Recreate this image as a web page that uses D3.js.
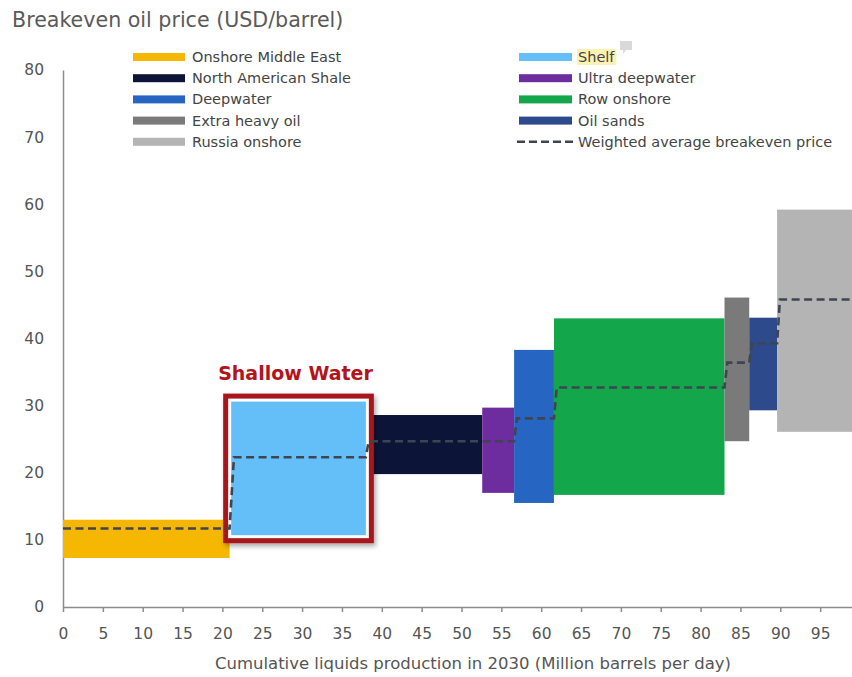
<!DOCTYPE html>
<html>
<head>
<meta charset="utf-8">
<script src="https://cdn.jsdelivr.net/npm/d3@7"></script>
<style>
  body { margin: 0; background: #fff; }
  svg { display: block; font-family: 'DejaVu Sans', sans-serif; }
</style>
</head>
<body>
<div id="chart"></div>
<script>
// supply segments, in order along the x axis
const categories = ['Onshore Middle East', 'Shelf', 'North American Shale', 'Ultra deepwater', 'Deepwater', 'Row onshore', 'Extra heavy oil', 'Oil sands', 'Russia onshore'];
const startProd = [0, 21.1, 38.0, 52.6, 56.6, 61.6, 83.0, 86.1, 89.6];
const endProd = [20.9, 38.0, 52.6, 56.6, 61.6, 83.0, 86.1, 89.6, 100];
const lowPrice = [7.3, 10.7, 19.8, 17.0, 15.5, 16.7, 24.7, 29.3, 26.1];
const highPrice = [13.0, 30.6, 28.6, 29.7, 38.3, 43.0, 46.1, 43.1, 59.2];
const avgPrice = [11.7, 22.3, 24.7, 24.7, 28.1, 32.7, 36.4, 39.3, 45.8];
const colors = ['#f6b702', '#64bff9', '#0c1437', '#6e2d9f', '#2765c2', '#14a64a', '#7a7a7a', '#2d4a8c', '#b4b4b4'];

const legendLeft = ['Onshore Middle East', 'North American Shale', 'Deepwater', 'Extra heavy oil', 'Russia onshore'];
const legendRight = ['Shelf', 'Ultra deepwater', 'Row onshore', 'Oil sands'];
const avgLabel = 'Weighted average breakeven price';

const xTicks = d3.range(0, 100, 5);
const yTicks = [0, 10, 20, 30, 40, 50, 60, 70, 80];

var width = 852, height = 677;
var svg = d3.select('#chart').append('svg').attr('width', width).attr('height', height);

var x = d3.scaleLinear().domain([0, 100]).range([63, 860]);
var y = d3.scaleLinear().domain([0, 80]).range([607, 70]);

// drop shadow for the highlight box
var defs = svg.append('defs');
defs.append('filter').attr('id', 'shadow').attr('x', '-10%').attr('y', '-10%').attr('width', '130%').attr('height', '130%')
  .append('feDropShadow').attr('dx', 2).attr('dy', 3).attr('stdDeviation', 2.5)
  .attr('flood-color', '#000').attr('flood-opacity', 0.35);

// title
svg.append('text').attr('x', 12).attr('y', 27)
  .attr('font-size', 20.6).attr('fill', '#5a5a5a')
  .text('Breakeven oil price (USD/barrel)');

// axes
var xAxis = svg.append('g').attr('transform', `translate(0,${y(0)})`)
  .call(d3.axisBottom(x).tickValues(xTicks).tickSize(5).tickSizeOuter(0).tickPadding(16));
var yAxis = svg.append('g').attr('transform', `translate(${x(0)},0)`)
  .call(d3.axisLeft(y).tickValues(yTicks).tickSize(0).tickPadding(19));

[xAxis, yAxis].forEach((ax) => {
  ax.select('.domain').attr('stroke', '#8c8c8c').attr('stroke-width', 1.5);
  ax.selectAll('.tick line').attr('stroke', '#8c8c8c').attr('stroke-width', 1.5);
  ax.selectAll('.tick text').attr('fill', '#555').attr('font-size', 15.5)
    .attr('font-family', "'DejaVu Sans', sans-serif");
});

svg.append('text').attr('x', 473).attr('y', 669).attr('text-anchor', 'middle')
  .attr('font-size', 16.5).attr('fill', '#555')
  .text('Cumulative liquids production in 2030 (Million barrels per day)');

// bars
var idx = d3.range(categories.length);
var shelf = categories.indexOf('Shelf');

svg.append('g').selectAll('rect')
  .data(idx.filter((i) => i !== shelf))
  .join('rect')
  .attr('x', (i) => x(startProd[i]))
  .attr('y', (i) => y(highPrice[i]))
  .attr('width', (i) => x(endProd[i]) - x(startProd[i]))
  .attr('height', (i) => y(lowPrice[i]) - y(highPrice[i]))
  .attr('fill', (i) => colors[i]);

// Shallow water highlight
var pad = 8;
var bx0 = x(startProd[shelf]) - pad, bx1 = x(endProd[shelf]) + pad;
var by0 = y(highPrice[shelf]) - pad, by1 = y(lowPrice[shelf]) + pad;
svg.append('rect')
  .attr('x', bx0 + 2.5).attr('y', by0 + 2.5)
  .attr('width', bx1 - bx0 - 5).attr('height', by1 - by0 - 5)
  .attr('fill', '#fff').attr('stroke', '#a8151b').attr('stroke-width', 5)
  .attr('filter', 'url(#shadow)');

svg.append('rect')
  .attr('x', x(startProd[shelf])).attr('y', y(highPrice[shelf]))
  .attr('width', x(endProd[shelf]) - x(startProd[shelf]))
  .attr('height', y(lowPrice[shelf]) - y(highPrice[shelf]))
  .attr('fill', colors[shelf]);

svg.append('text').attr('x', bx0 - 5).attr('y', 380)
  .attr('font-size', 19).attr('font-weight', 700).attr('fill', '#b3141c')
  .text('Shallow Water');

// weighted average step line
var pts = [];
idx.forEach((i) => {
  pts.push([i === 0 ? startProd[i] : startProd[i] + 0.35, avgPrice[i]]);
  pts.push([endProd[i], avgPrice[i]]);
});
svg.append('path')
  .datum(pts)
  .attr('d', d3.line().x((d) => x(d[0])).y((d) => y(d[1])))
  .attr('fill', 'none').attr('stroke', '#3f4550').attr('stroke-width', 2.6)
  .attr('stroke-dasharray', '8,4.5');

// legend
var legend = svg.append('g').attr('font-size', 14.5).attr('fill', '#444');

legendLeft.forEach((name, k) => {
  var cy = 57 + k * 21.2;
  legend.append('rect').attr('x', 133).attr('y', cy - 4).attr('width', 52).attr('height', 8)
    .attr('fill', colors[categories.indexOf(name)]);
  legend.append('text').attr('x', 192).attr('y', cy + 5).text(name);
});

var hl = legend.append('rect').attr('fill', '#fcf2b4');
legend.append('path')
  .attr('d', 'M620,41 h12 v9 h-6 l-3,4 v-4 h-3 z')
  .attr('fill', '#d9d9d9');

legendRight.forEach((name, k) => {
  var cy = 57 + k * 21.2;
  legend.append('rect').attr('x', 519).attr('y', cy - 4).attr('width', 53).attr('height', 8)
    .attr('fill', colors[categories.indexOf(name)]);
  var t = legend.append('text').attr('x', 578).attr('y', cy + 5).text(name);
  if (name === 'Shelf') {
    // comment highlight behind the word
    var bb = t.node().getBBox();
    hl.attr('x', bb.x - 1).attr('y', bb.y).attr('width', bb.width + 2).attr('height', bb.height);
  }
});

var ly = 57 + 4 * 21.2;
legend.append('line').attr('x1', 517).attr('x2', 575).attr('y1', ly).attr('y2', ly)
  .attr('stroke', '#3f4550').attr('stroke-width', 2.6).attr('stroke-dasharray', '8,4');
legend.append('text').attr('x', 578).attr('y', ly + 5).text(avgLabel);
</script>
</body>
</html>
